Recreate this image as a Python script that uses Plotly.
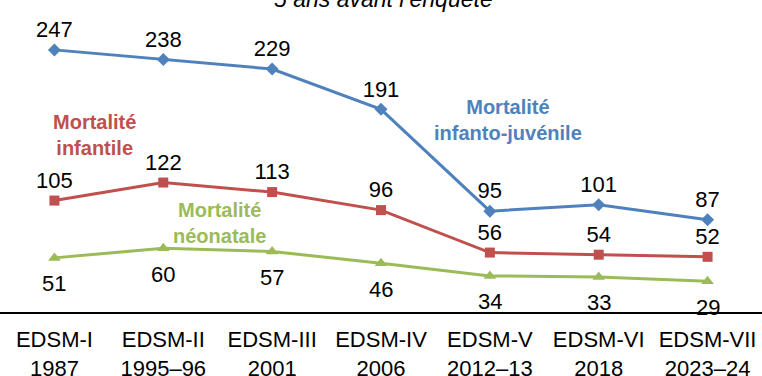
import plotly.graph_objects as go

# Survey rounds (x axis)
surveys = ["EDSM-I<br>1987", "EDSM-II<br>1995–96", "EDSM-III<br>2001", "EDSM-IV<br>2006",
           "EDSM-V<br>2012–13", "EDSM-VI<br>2018", "EDSM-VII<br>2023–24"]

# Mortality rates per 1000
infanto_juvenile = [247, 238, 229, 191, 95, 101, 87]
infantile = [105, 122, 113, 96, 56, 54, 52]
neonatale = [51, 60, 57, 46, 34, 33, 29]

BLUE = "#4F81BD"
RED = "#C0504D"
GREEN = "#9BBB59"
FONT = "Liberation Sans, Arial, sans-serif"

fig = go.Figure()

fig.add_trace(go.Scatter(
    x=surveys, y=infanto_juvenile, mode="lines+markers+text",
    line=dict(color=BLUE, width=3),
    marker=dict(symbol="diamond", size=10, color=BLUE),
    text=[str(v) for v in infanto_juvenile], textposition="top center",
    textfont=dict(size=22, color="black", family=FONT),
    cliponaxis=False, showlegend=False,
))
fig.add_trace(go.Scatter(
    x=surveys, y=infantile, mode="lines+markers+text",
    line=dict(color=RED, width=3),
    marker=dict(symbol="square", size=10, color=RED),
    text=[str(v) for v in infantile], textposition="top center",
    textfont=dict(size=22, color="black", family=FONT),
    cliponaxis=False, showlegend=False,
))
fig.add_trace(go.Scatter(
    x=surveys, y=neonatale, mode="lines+markers",
    line=dict(color=GREEN, width=3),
    marker=dict(symbol="triangle-up", size=11, color=GREEN),
    cliponaxis=False, showlegend=False,
))

annotations = [
    dict(text="<i>5 ans avant l’enquête</i>", xref="paper", yref="paper",
         x=0.503, y=0.955, xanchor="center", yanchor="bottom", showarrow=False,
         font=dict(size=23, color="black", family=FONT)),
    dict(text="<b>Mortalité<br>infantile</b>", x=0.37, y=167, showarrow=False,
         font=dict(size=20, color=RED, family=FONT)),
    dict(text="<b>Mortalité<br>infanto-juvénile</b>", x=4.17, y=181, showarrow=False,
         font=dict(size=20, color=BLUE, family=FONT)),
    dict(text="<b>Mortalité<br>néonatale</b>", x=1.52, y=84, showarrow=False,
         font=dict(size=20, color=GREEN, family=FONT)),
]

# Neonatal value labels sit below their markers
for i, v in enumerate(neonatale):
    annotations.append(dict(text=str(v), x=i, y=v, yshift=-26, showarrow=False,
                            xanchor="center", yanchor="middle",
                            font=dict(size=22, color="black", family=FONT)))

fig.update_layout(
    width=762, height=376,
    margin=dict(l=0, r=0, t=0, b=64),
    paper_bgcolor="white", plot_bgcolor="white",
    font=dict(family=FONT, color="black"),
    annotations=annotations,
    xaxis=dict(type="category", range=[-0.5, 6.5], showgrid=False, zeroline=False,
               showline=True, linecolor="black", linewidth=1.5, ticks="",
               ticklabelstandoff=7, automargin=False,
               tickfont=dict(size=22, color="black", family=FONT)),
    yaxis=dict(range=[0, 294], visible=False, showgrid=False, zeroline=False),
)

fig.write_html("out.html")
